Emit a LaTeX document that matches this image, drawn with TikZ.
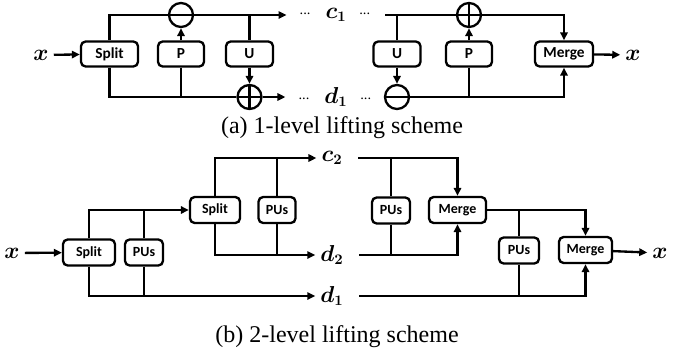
\documentclass[tikz,border=0pt]{standalone}
\usepackage{amsmath}
\usepackage{fontspec}
\setmainfont{Liberation Serif}
\newfontfamily\boxfont{Carlito}
\usetikzlibrary{arrows.meta}

\tikzset{every picture/.style={line width=1.75pt}}
\newcommand{\smalldots}{\raisebox{1.5pt}{$\scriptscriptstyle\boldsymbol{\cdots}$}}

\begin{document}
\begin{tikzpicture}[x=0.75pt,y=0.75pt,yscale=-1,xscale=1,
  >={Triangle[length=6pt,width=5.5pt]},
  blk/.style={draw, rounded corners=3.5pt, minimum height=18.75pt, inner sep=0pt, font=\boxfont\bfseries\fontsize{11.5}{13}\selectfont},
  blkb/.style={blk, minimum height=19.5pt, font=\boxfont\bfseries\fontsize{10.5}{12}\selectfont},
  opminus/.style={draw, circle, minimum size=18pt, inner sep=0pt, path picture={\draw (path picture bounding box.west) -- (path picture bounding box.east);}},
  opplus/.style={draw, circle, minimum size=18pt, inner sep=0pt, path picture={\draw (path picture bounding box.west) -- (path picture bounding box.east) (path picture bounding box.north) -- (path picture bounding box.south);}},
  sig/.style={inner sep=3pt, font=\fontsize{16}{18}\selectfont},
  dotlbl/.style={sig, inner xsep=9pt},
  captext/.style={font=\fontsize{18}{20}\selectfont}]
\useasboundingbox (0,0) rectangle (688,354);

% (a) one level
\node (xa) at (41,55) [sig] {$\boldsymbol{x}$};
\node (splita) at (109.5,54) [blk, minimum width=42.75pt] {Split};
\node (pa) at (181,54) [blk, minimum width=34.5pt] {P};
\node (ua) at (249.5,54) [blk, minimum width=35.25pt] {U};
\node (subA) at (181,15) [opminus] {};
\node (addA) at (249.5,97) [opplus] {};
\node (c1) at (336,15) [dotlbl] {\smalldots$\mkern10mu\boldsymbol{c_1}\mkern10mu$\smalldots};
\node (d1) at (336,97) [dotlbl] {\smalldots$\mkern10mu\boldsymbol{d_1}\mkern10mu$\smalldots};
\node (ub) at (397,54) [blk, minimum width=35.25pt] {U};
\node (pb) at (469,54) [blk, minimum width=34.5pt] {P};
\node (subB) at (397,97) [opminus] {};
\node (addB) at (469,15) [opplus] {};
\node (mergea) at (564,54) [blk, minimum width=43.5pt] {Merge};
\node (xaout) at (633,55) [sig] {$\boldsymbol{x}$};

\draw [->] (xa) -- (splita);
\draw (splita.north) |- (subA.west);
\draw [->] (subA.east) -- (c1.west);
\draw (ua.north) -- (ua |- subA);
\draw [->] (pa) -- (subA);
\draw (splita.south) |- (addA.west);
\draw [->] (addA.east) -- (d1.west);
\draw (pa.south) -- (pa |- addA);
\draw [->] (ua) -- (addA);

\draw (c1.east) -- (addB.west);
\draw [->] (addB.east) -| (mergea.north);
\draw (d1.east) -- (subB.west);
\draw [->] (subB.east) -| (mergea.south);
\draw (ub.north) -- (ub |- c1);
\draw [->] (ub) -- (subB);
\draw [->] (pb) -- (addB);
\draw (pb.south) -- (pb |- d1);
\draw [->] (mergea) -- (xaout);

% Text Node
\node (capa) at (342,128) [captext] {(a) 1-level lifting scheme};

% (b) two levels
\node (xb) at (12,253) [sig] {$\boldsymbol{x}$};
\node (splitc) at (89,252.5) [blkb, minimum width=39pt] {Split};
\node (pusc) at (144,252.5) [blkb, minimum width=28.5pt] {PUs};
\node (splitd) at (215,210) [blkb, minimum width=37.5pt] {Split};
\node (pusd) at (277,210) [blkb, minimum width=27.75pt] {PUs};
\node (c2) at (332,158) [sig] {$\boldsymbol{c_2}$};
\node (d2) at (332,255) [sig] {$\boldsymbol{d_2}$};
\node (d1b) at (332,296) [sig] {$\boldsymbol{d_1}$};
\node (pusf) at (391,210.5) [blkb, minimum width=28.5pt] {PUs};
\node (mergef) at (457.5,210) [blkb, minimum width=42.75pt] {Merge};
\node (pusg) at (519,250.5) [blkb, minimum width=30pt] {PUs};
\node (mergeg) at (585.5,250) [blkb, minimum width=39.75pt] {Merge};
\node (xbout) at (660,253) [sig] {$\boldsymbol{x}$};

\draw [->] (xb) -- (splitc);
\draw [->] (splitc.north) |- (splitd.west);
\draw (pusc.north) -- (pusc |- splitd.west);
\draw [->] (splitc.south) |- (d1b.west);
\draw (pusc.south) -- (pusc |- d1b.west);
\draw [->] (splitd.north) |- (c2.west);
\draw (pusd.north) -- (pusd |- c2.west);
\draw [->] (splitd.south) |- (d2.west);
\draw (pusd.south) -- (pusd |- d2.west);

\draw [->, shorten <=8pt] (c2.east) -| (mergef.north);
\draw (pusf.north) -- (pusf |- c2.east);
\draw [->, shorten <=8pt] (d2.east) -| (mergef.south);
\draw (pusf.south) -- (pusf |- d2.east);
\draw [->] (mergef.east) -| (mergeg.north);
\draw (pusg.north) -- (pusg |- mergef.east);
\draw [->, shorten <=8pt] (d1b.east) -| (mergeg.south);
\draw (pusg.south) -- (pusg |- d1b.east);
\draw [->] (mergeg) -- (xbout);

% Text Node
\node (capb) at (337,337) [captext] {(b) 2-level lifting scheme};

\end{tikzpicture}
\end{document}
